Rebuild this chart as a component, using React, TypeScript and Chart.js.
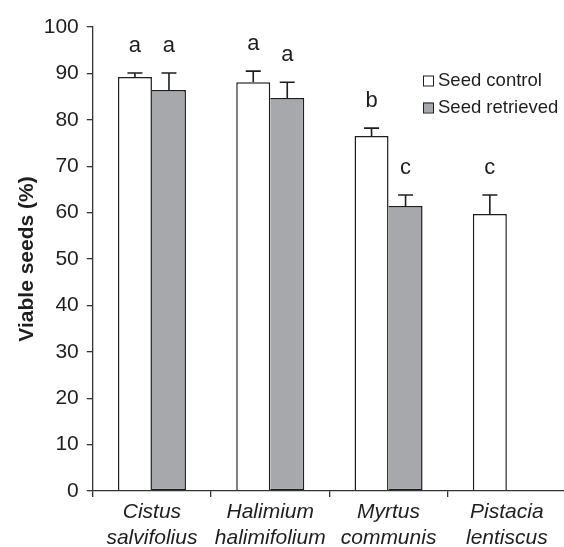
import { useEffect, useRef } from "react";
import { Chart, registerables } from "chart.js";

Chart.register(...registerables);

// Species (two-line italic labels)
const species: string[][] = [
  ["Cistus", "salvifolius"],
  ["Halimium", "halimifolium"],
  ["Myrtus", "communis"],
  ["Pistacia", "lentiscus"],
];

// Viable seeds (%), mean and upper error
const controlMean: (number | null)[] = [89.2, 88.1, 76.5, 59.7];
const controlErr: (number | null)[] = [0.9, 2.4, 1.7, 4.1];
const retrievedMean: (number | null)[] = [86.4, 84.7, 61.4, null];
const retrievedErr: (number | null)[] = [3.7, 3.4, 2.4, null];

// Significance letters above each bar
const controlLetters: string[] = ["a", "a", "b", "c"];
const retrievedLetters: string[] = ["a", "a", "c", ""];

const seriesNames = ["Seed control", "Seed retrieved"];

const FONT = "'Liberation Sans', Arial, Helvetica, sans-serif";
const INK = "#1e1e1e";
const GREY = "#a7a8ab";

const errorBarPlugin = {
  id: "errorBarsAndLetters",
  afterDatasetsDraw(chart: any) {
    const { ctx } = chart;
    const yScale = chart.scales.y;
    chart.data.datasets.forEach((ds: any, d: number) => {
      const meta = chart.getDatasetMeta(d);
      meta.data.forEach((el: any, i: number) => {
        const v = ds.data[i];
        const e = ds.errors[i];
        if (v == null || e == null) return;
        const top = yScale.getPixelForValue(v + e);
        ctx.save();
        ctx.strokeStyle = INK;
        ctx.lineWidth = 1.6;
        ctx.beginPath();
        ctx.moveTo(el.x, el.y);
        ctx.lineTo(el.x, top);
        ctx.moveTo(el.x - 7.5, top);
        ctx.lineTo(el.x + 7.5, top);
        ctx.stroke();
        const letter = ds.letters[i];
        if (letter) {
          ctx.fillStyle = INK;
          ctx.font = `22px ${FONT}`;
          ctx.textAlign = "center";
          ctx.textBaseline = "middle";
          ctx.fillText(letter, el.x, top - 27);
        }
        ctx.restore();
      });
    });
  },
};

const legendPlugin = {
  id: "insetLegend",
  afterDraw(chart: any) {
    const { ctx } = chart;
    const x0 = 423;
    const y0 = 80.5;
    const gap = 27;
    chart.data.datasets.forEach((ds: any, d: number) => {
      const cy = y0 + d * gap;
      ctx.save();
      ctx.fillStyle = ds.backgroundColor;
      ctx.strokeStyle = INK;
      ctx.lineWidth = 1;
      ctx.fillRect(x0, cy - 5, 10, 10);
      ctx.strokeRect(x0 + 0.5, cy - 4.5, 10, 10);
      ctx.fillStyle = INK;
      ctx.font = `18.5px ${FONT}`;
      ctx.textAlign = "left";
      ctx.textBaseline = "middle";
      ctx.fillText(ds.label, x0 + 15, cy);
      ctx.restore();
    });
  },
};

export default function App() {
  const ref = useRef<HTMLCanvasElement>(null);

  useEffect(() => {
    if (!ref.current) return;
    const chart = new Chart(ref.current, {
      type: "bar",
      data: {
        labels: species,
        datasets: [
          {
            label: seriesNames[0],
            data: controlMean,
            backgroundColor: "#ffffff",
            borderColor: INK,
            borderWidth: 1.5,
            borderSkipped: "bottom",
            errors: controlErr,
            letters: controlLetters,
          } as any,
          {
            label: seriesNames[1],
            data: retrievedMean,
            backgroundColor: GREY,
            borderColor: INK,
            borderWidth: 1.5,
            // shares its left edge with the neighbouring white bar
            borderSkipped: "left",
            errors: retrievedErr,
            letters: retrievedLetters,
          } as any,
        ],
      },
      options: {
        animation: false,
        responsive: false,
        devicePixelRatio: 1,
        layout: { padding: { top: 27, right: 10, bottom: 0, left: 0 } },
        datasets: {
          bar: { categoryPercentage: 0.575, barPercentage: 1 },
        },
        plugins: {
          legend: { display: false },
          tooltip: { enabled: false },
        },
        scales: {
          x: {
            offset: true,
            grid: {
              offset: true,
              drawOnChartArea: false,
              drawTicks: true,
              tickLength: 6,
              color: "#333",
              lineWidth: 1.3,
            },
            border: { color: "#333", width: 1.3, z: 1 },
            ticks: {
              color: INK,
              padding: 3,
              maxRotation: 0,
              autoSkip: false,
              font: { family: FONT, size: 21, style: "italic", lineHeight: 1.2 },
            },
            afterFit: (scale: any) => {
              scale.height = 56;
            },
          },
          y: {
            min: 0,
            max: 100,
            ticks: {
              stepSize: 10,
              color: INK,
              padding: 8,
              font: { family: FONT, size: 21 },
            },
            grid: {
              drawOnChartArea: false,
              drawTicks: true,
              tickLength: 6,
              color: "#333",
              lineWidth: 1.3,
            },
            border: { color: "#333", width: 1.3 },
            title: {
              display: true,
              text: "Viable seeds (%)",
              color: INK,
              padding: { top: 15, bottom: 0 },
              font: { family: FONT, size: 21, weight: "bold", lineHeight: 1.2 },
            },
            afterFit: (scale: any) => {
              scale.width = 92.8;
            },
          },
        },
      },
      plugins: [errorBarPlugin, legendPlugin],
    });
    return () => chart.destroy();
  }, []);

  return (
    <div
      style={{
        position: "fixed",
        left: 0,
        top: 0,
        width: 564,
        height: 547,
        overflow: "hidden",
        background: "#ffffff",
      }}
    >
      <canvas ref={ref} width={576} height={547} style={{ display: "block" }} />
    </div>
  );
}
